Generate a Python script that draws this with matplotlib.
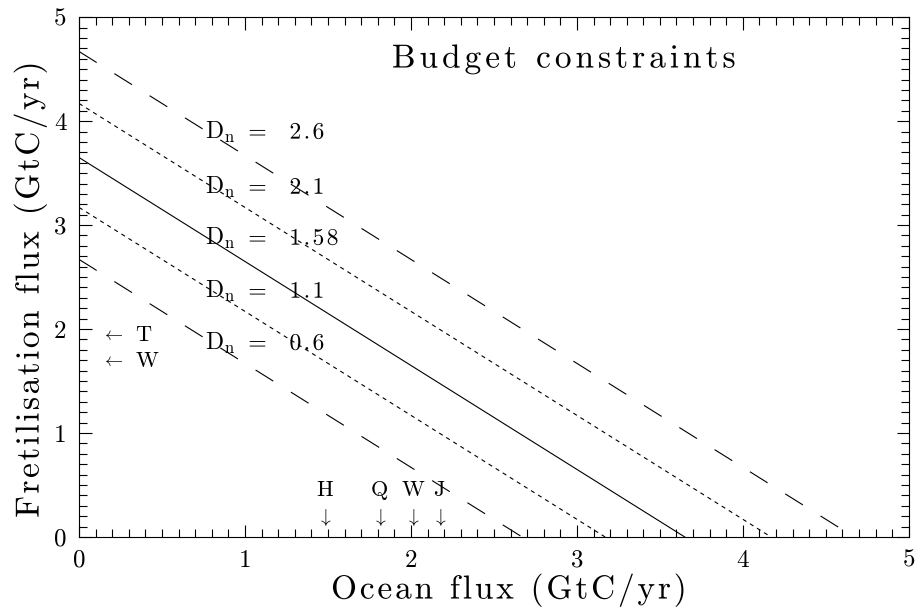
import matplotlib.pyplot as plt
import numpy as np
from matplotlib.ticker import MultipleLocator
from matplotlib.patheffects import AbstractPathEffect
from matplotlib.textpath import TextToPath
from matplotlib.font_manager import FontProperties
from matplotlib.path import Path

# budget lines: fertilisation + ocean = intercept
dn_values = [2.6, 2.1, 1.58, 1.1, 0.6]
intercepts = [4.67, 4.17, 3.65, 3.17, 2.67]
styles = ['long', 'short', 'solid', 'short', 'long']
label_y = [3.89, 3.36, 2.87, 2.36, 1.86]

# fertilisation estimates (left arrows) and ocean estimates (down arrows)
fert_names = ['T', 'W']
fert_values = [1.94, 1.69]
ocean_names = ['H', 'Q', 'W', 'J']
ocean_values = [1.48, 1.81, 2.01, 2.17]


class Tracking(AbstractPathEffect):
    """Loosen the letter spacing of a plain text by `track` em per glyph."""

    def __init__(self, s, size, track, center=True):
        super().__init__()
        ttp = TextToPath()
        prop = FontProperties(family='cmr10', size=size)
        scale = ttp.FONT_SCALE / size
        self.bounds = [ttp.get_text_width_height_descent(s[:k], prop, False)[0] * scale
                       for k in range(1, len(s) + 1)]
        self.step = track * ttp.FONT_SCALE
        self.shift0 = -self.step * (len(s) - 1) / 2 if center else 0.0

    def draw_path(self, renderer, gc, tpath, affine, rgbFace=None):
        verts = tpath.vertices.copy()
        codes = tpath.codes
        starts = np.where(codes == Path.MOVETO)[0]
        ends = list(starts[1:]) + [len(verts)]
        for a, b in zip(starts, ends):
            k = np.searchsorted(self.bounds, verts[a:b, 0].mean())
            verts[a:b, 0] += k * self.step + self.shift0
        renderer.draw_path(gc, Path(verts, codes), affine, rgbFace)


def spaced(artist, size, track, center=True):
    artist.set_path_effects([Tracking(artist.get_text(), size, track, center)])


def main():
    plt.rcParams['font.family'] = 'cmr10'
    plt.rcParams['mathtext.fontset'] = 'cm'
    plt.rcParams['axes.formatter.use_mathtext'] = False
    plt.rcParams['lines.scale_dashes'] = False

    fig = plt.figure(figsize=(9.21, 6.13), dpi=100)
    ax = fig.add_axes([0.0858, 0.124, 0.901, 0.848])

    dash = {'long': (0, (15, 15)), 'short': (0, (3, 3)), 'solid': '-'}
    for c, st in zip(intercepts, styles):
        x = np.array([0, c])
        ax.plot(x, c - x, color='black', lw=0.8, linestyle=dash[st])

    # D_n labels
    for d, yl in zip(dn_values, label_y):
        ax.text(0.76, yl, r'D$_{\rm n}$', fontsize=17, va='center', ha='left')
        t = ax.text(1.02, yl, '=  ' + str(d), fontsize=17, va='center', ha='left')
        spaced(t, 17, 0.1, center=False)

    for name, v in zip(fert_names, fert_values):
        ax.text(0.2, v, r'$\leftarrow$', fontsize=13, va='center', ha='center')
        ax.text(0.34, v, name, fontsize=16, va='center', ha='left')

    for name, v in zip(ocean_names, ocean_values):
        ax.text(v, 0.19, r'$\downarrow$', fontsize=14, va='center', ha='center')
        ax.text(v, 0.45, name, fontsize=16, va='center', ha='center')

    title = ax.text(2.92, 4.6, 'Budget constraints', fontsize=24,
                    ha='center', va='center')
    spaced(title, 24, 0.12)

    ax.set_xlim(0, 5)
    ax.set_ylim(0, 5)
    ax.xaxis.set_major_locator(MultipleLocator(1))
    ax.yaxis.set_major_locator(MultipleLocator(1))
    ax.xaxis.set_minor_locator(MultipleLocator(0.1))
    ax.yaxis.set_minor_locator(MultipleLocator(0.1))
    ax.tick_params(which='both', direction='in', top=True, right=True,
                   width=0.8, labelsize=18)
    ax.tick_params(which='major', length=9)
    ax.tick_params(which='minor', length=5.5)
    ax.tick_params(axis='x', pad=9)
    ax.tick_params(axis='y', pad=9)
    for s in ax.spines.values():
        s.set_linewidth(0.8)

    xl = ax.set_xlabel('Ocean flux (GtC/yr)', fontsize=24)
    yl = ax.set_ylabel('Fretilisation flux (GtC/yr)', fontsize=24)
    xl.set_va('center')
    yl.set_va('center')
    ax.xaxis.set_label_coords(0.518, -0.102)
    ax.yaxis.set_label_coords(-0.059, 0.475)
    spaced(xl, 24, 0.085)
    spaced(yl, 24, 0.075)

    fig.savefig('out.png', dpi=100, facecolor='white')


if __name__ == '__main__':
    main()
